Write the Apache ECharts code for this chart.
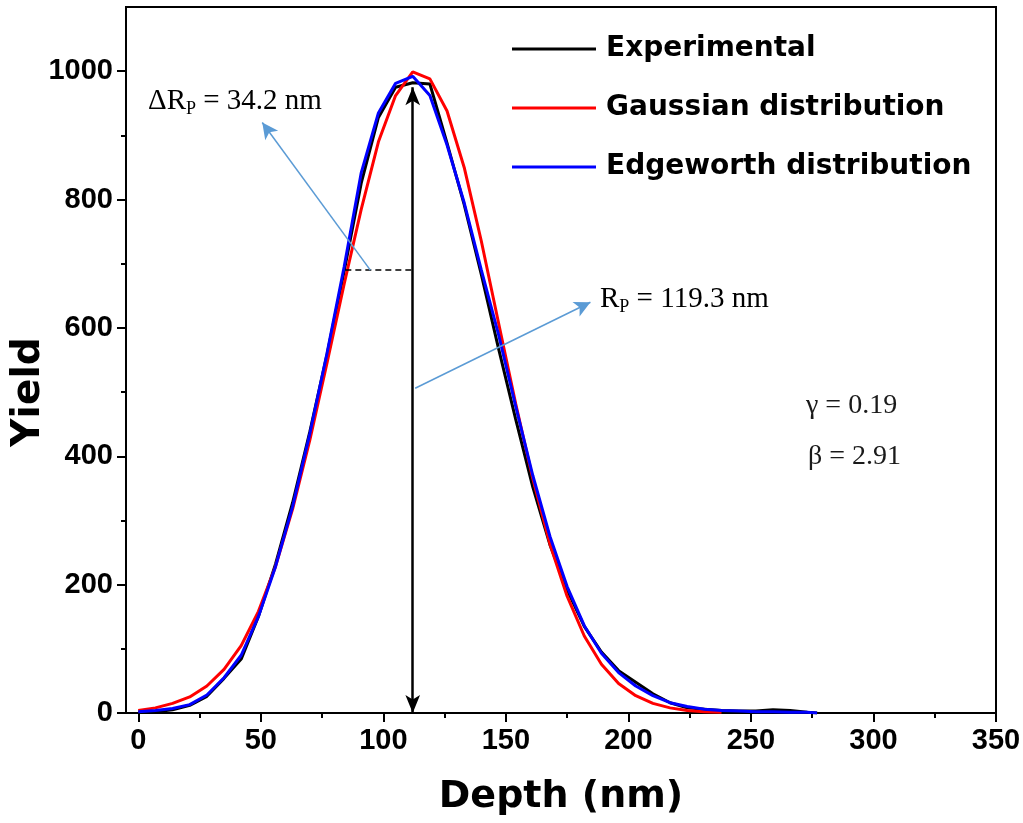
<!DOCTYPE html>
<html>
<head>
<meta charset="utf-8">
<title>Yield vs Depth</title>
<script src="https://cdn.jsdelivr.net/npm/echarts@6/dist/echarts.min.js"></script>
<style>
  html, body { margin: 0; padding: 0; background: #fff; }
  #chart { width: 1023px; height: 823px; }
</style>
</head>
<body>
<div id="chart"></div>
<script>
// depth grid (nm)
const depth = [0, 7, 14, 21, 28, 35, 42, 49, 56, 63, 70, 77, 84, 91, 98, 105, 112, 119, 126, 133,
  140, 147, 154, 161, 168, 175, 182, 189, 196, 203, 210, 217, 224, 231, 238, 245, 252, 259, 266, 273, 277];

const experimental = [1, 2, 5, 12, 26, 54, 84, 150, 232, 328, 438, 558, 688, 826, 928, 975, 982, 980, 888, 792,
  683, 568, 458, 352, 262, 192, 135, 95, 66, 48, 30, 16, 8, 6, 4, 3, 3, 5, 4, 1, 0];

const gaussian = [4, 8, 15, 25, 42, 68, 105, 158, 228, 318, 425, 545, 668, 785, 890, 962, 999, 988, 938, 850,
  735, 608, 482, 365, 263, 182, 120, 76, 46, 27, 15, 8, 4, 2, 1];

const edgeworth = [2, 4, 7, 13, 28, 55, 90, 150, 228, 322, 435, 560, 695, 842, 935, 981, 992, 962, 885, 795,
  690, 590, 478, 370, 275, 197, 136, 93, 63, 42, 27, 16, 10, 6, 4, 3, 2, 2, 1, 1, 0];

const xTicks = [0, 50, 100, 150, 200, 250, 300, 350];
const xMinor = [25, 75, 125, 175, 225, 275, 325];
const yTicks = [0, 200, 400, 600, 800, 1000];
const yMinor = [100, 300, 500, 700, 900];

// annotation anchors in data units
const rpDepth = 112;
const rpTop = 975;
const halfLevel = 690;
const halfLeft = 84.5;

const pairs = (ys) => ys.map((v, i) => [depth[i], v]);

const chart = echarts.init(document.getElementById('chart'));

const labelFont = {
  fontFamily: 'Liberation Sans',
  fontWeight: 'bold',
  fontSize: 29,
  color: '#000',
  formatter: (v) => String(v)
};

const serif = 'Liberation Serif';
const arrowBlue = '#5b9bd5';
const subRich = {
  a: { fontFamily: serif, fontSize: 29, color: '#1a1a1a' },
  s: { fontFamily: serif, fontSize: 18, color: '#1a1a1a', padding: [17, 0, 0, 0] }
};

const option = {
  animation: false,
  backgroundColor: '#fff',
  grid: {
    left: 126,
    right: 27,
    top: 7,
    bottom: 110,
    outerBoundsMode: 'none',
    containLabel: false,
    show: true,
    borderColor: '#000',
    borderWidth: 2,
    backgroundColor: 'transparent'
  },
  legend: {
    orient: 'vertical',
    left: 512,
    top: 35,
    padding: 0,
    icon: 'rect',
    itemWidth: 84,
    itemHeight: 3,
    itemGap: 31,
    textStyle: {
      fontFamily: 'DejaVu Sans',
      fontWeight: 'bold',
      fontSize: 28,
      color: '#000',
      padding: [0, 0, 0, 5]
    },
    data: ['Experimental', 'Gaussian distribution', 'Edgeworth distribution']
  },
  xAxis: [
    {
      type: 'value',
      min: -5,
      max: 350,
      name: 'Depth (nm)',
      nameLocation: 'middle',
      nameGap: 65,
      nameMoveOverlap: false,
      nameTextStyle: { fontFamily: 'DejaVu Sans', fontWeight: 'bold', fontSize: 38, color: '#000' },
      axisLine: { onZero: false, lineStyle: { color: '#000', width: 2 } },
      axisTick: { customValues: xTicks, length: 9, lineStyle: { color: '#000', width: 2 } },
      axisLabel: Object.assign({ customValues: xTicks, margin: 13 }, labelFont),
      splitLine: { show: false }
    },
    {
      type: 'value',
      position: 'bottom',
      min: -5,
      max: 350,
      axisLine: { show: false, onZero: false },
      axisTick: { customValues: xMinor, length: 5, lineStyle: { color: '#000', width: 2 } },
      axisLabel: { show: false },
      splitLine: { show: false }
    }
  ],
  yAxis: [
    {
      type: 'value',
      min: 0,
      max: 1100,
      name: 'Yield',
      nameLocation: 'middle',
      nameGap: 78,
      nameMoveOverlap: false,
      nameRotate: 90,
      nameTextStyle: { fontFamily: 'DejaVu Sans', fontWeight: 'bold', fontSize: 39, color: '#000', padding: [0, 64, 0, 0] },
      axisLine: { show: true, onZero: false, lineStyle: { color: '#000', width: 2 } },
      axisTick: { show: true, customValues: yTicks, length: 9, lineStyle: { color: '#000', width: 2 } },
      axisLabel: Object.assign({ customValues: yTicks, margin: 13 }, labelFont),
      splitLine: { show: false }
    },
    {
      type: 'value',
      position: 'left',
      min: 0,
      max: 1100,
      axisLine: { show: false, onZero: false },
      axisTick: { show: true, customValues: yMinor, length: 5, lineStyle: { color: '#000', width: 2 } },
      axisLabel: { show: false },
      splitLine: { show: false }
    }
  ],
  series: [
    {
      name: 'Experimental',
      type: 'line',
      data: pairs(experimental),
      showSymbol: false,
      lineStyle: { color: '#000', width: 3 },
      itemStyle: { color: '#000' },
      markLine: {
        silent: true,
        label: { show: false },
        emphasis: { disabled: true },
        data: [
          [
            { coord: [rpDepth, 0], symbol: 'arrow', symbolSize: [11, 18], lineStyle: { color: '#000', width: 2.5, type: 'solid' } },
            { coord: [rpDepth, rpTop], symbol: 'arrow', symbolSize: [11, 18] }
          ],
          [
            { coord: [halfLeft, halfLevel], symbol: 'none', lineStyle: { color: '#000', width: 1.5, type: [6, 4] } },
            { coord: [rpDepth, halfLevel], symbol: 'none' }
          ],
          [
            { coord: [94.7, halfLevel], symbol: 'none', lineStyle: { color: arrowBlue, width: 1.5, type: 'solid' } },
            { coord: [50.6, 920], symbol: 'arrow', symbolSize: [12, 16] }
          ],
          [
            { coord: [113, 506], symbol: 'none', lineStyle: { color: arrowBlue, width: 1.5, type: 'solid' } },
            { coord: [184.5, 640], symbol: 'arrow', symbolSize: [12, 16] }
          ]
        ]
      }
    },
    {
      name: 'Gaussian distribution',
      type: 'line',
      data: pairs(gaussian),
      showSymbol: false,
      lineStyle: { color: '#ff0000', width: 3 },
      itemStyle: { color: '#ff0000' }
    },
    {
      name: 'Edgeworth distribution',
      type: 'line',
      data: pairs(edgeworth),
      showSymbol: false,
      lineStyle: { color: '#0000ff', width: 3 },
      itemStyle: { color: '#0000ff' }
    }
  ],
  graphic: [
    {
      type: 'text',
      x: 148,
      y: 101,
      style: { text: '{a|ΔR}{s|P}{a| = 34.2 nm}', verticalAlign: 'middle', rich: subRich }
    },
    {
      type: 'text',
      x: 600,
      y: 299,
      style: { text: '{a|R}{s|P}{a| = 119.3 nm}', verticalAlign: 'middle', rich: subRich }
    },
    {
      type: 'text',
      x: 806,
      y: 406,
      style: { text: 'γ = 0.19', fontFamily: serif, fontSize: 28, fill: '#1a1a1a', verticalAlign: 'middle' }
    },
    {
      type: 'text',
      x: 808,
      y: 457,
      style: { text: 'β = 2.91', fontFamily: serif, fontSize: 28, fill: '#1a1a1a', verticalAlign: 'middle' }
    }
  ]
};

chart.setOption(option);
window.addEventListener('resize', () => chart.resize());
</script>
</body>
</html>
